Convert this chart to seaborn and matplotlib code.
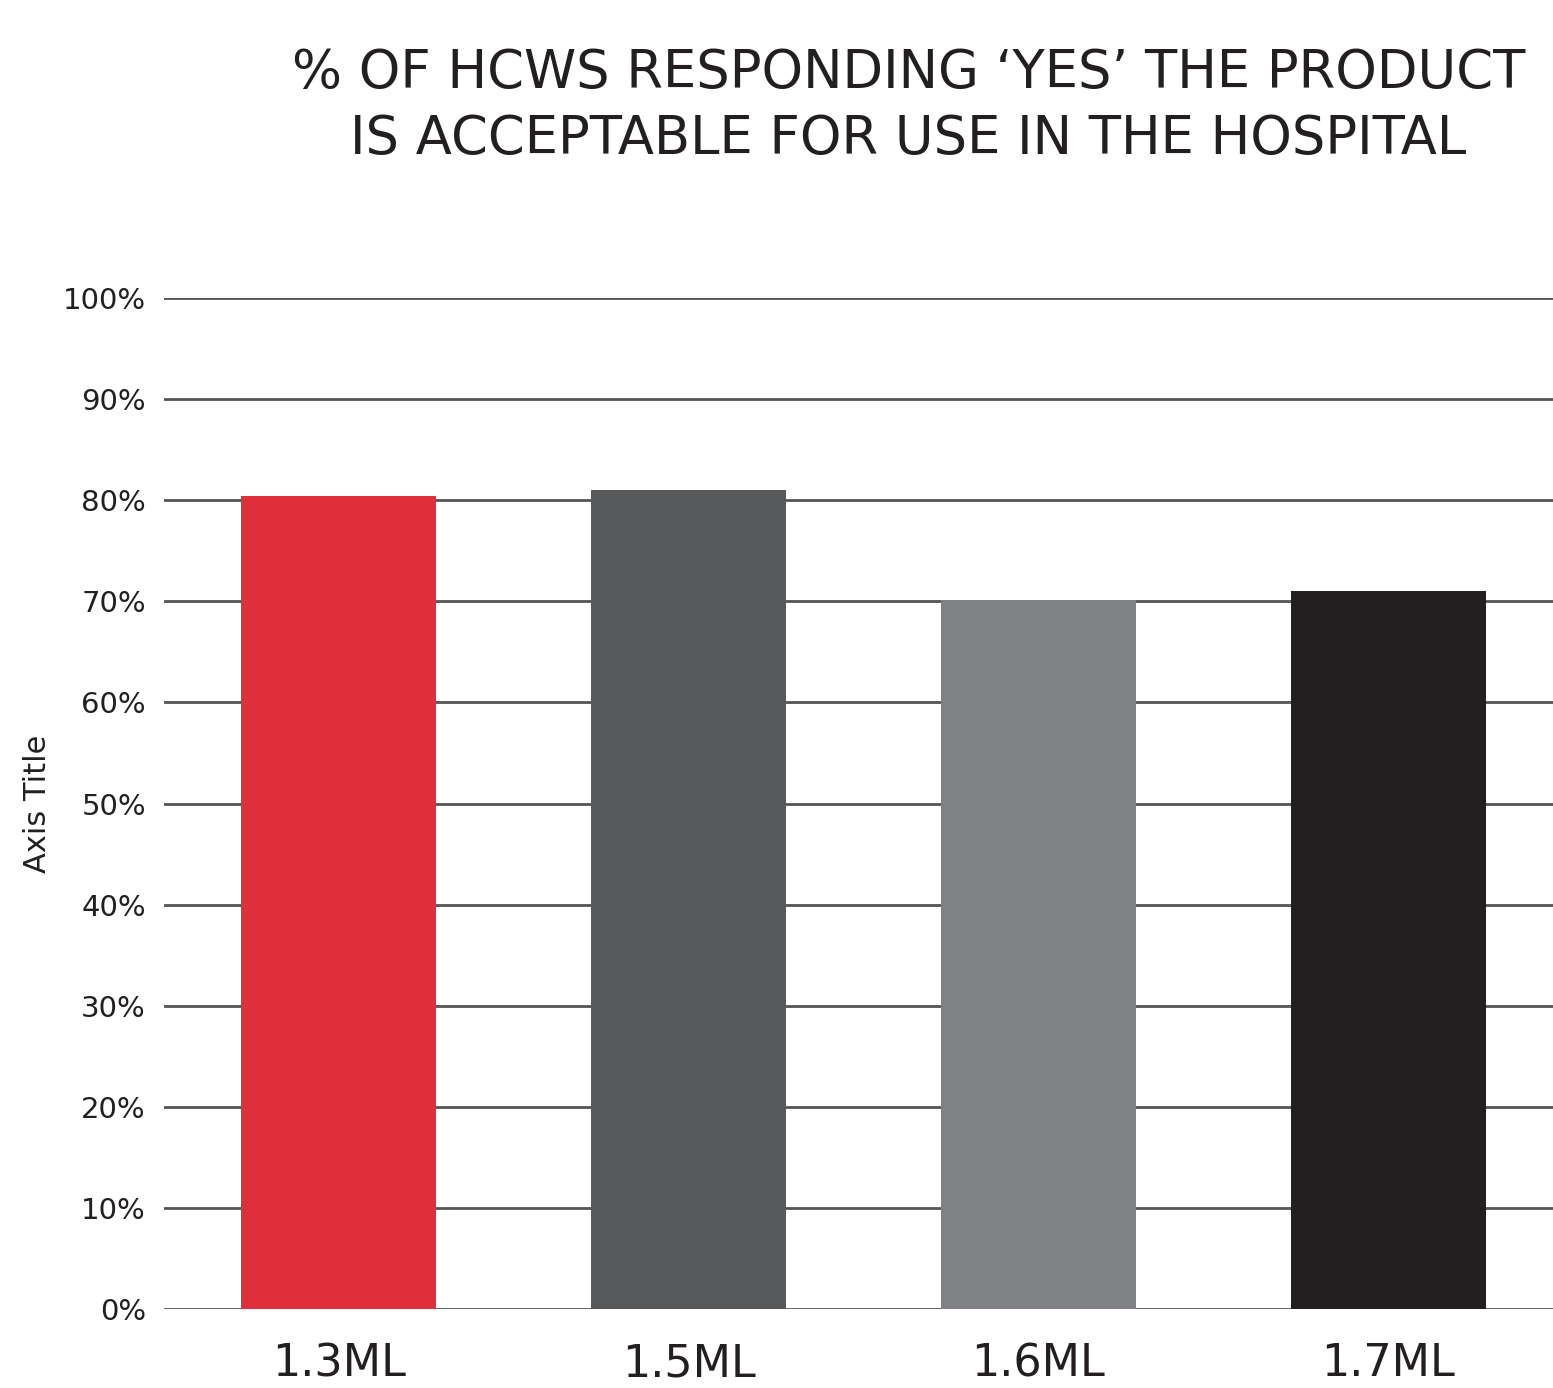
import matplotlib
matplotlib.use("Agg")
import matplotlib.pyplot as plt
import seaborn as sns
import pandas as pd
from matplotlib.ticker import FuncFormatter

categories = ["1.3ML", "1.5ML", "1.6ML", "1.7ML"]
values = [80.4, 81.0, 70.1, 71.0]
colors = ["#E02F3A", "#58595B", "#808184", "#231F20"]
yticks = [0, 10, 20, 30, 40, 50, 60, 70, 80, 90, 100]
title = "% OF HCWS RESPONDING \u2018YES\u2019 THE PRODUCT\nIS ACCEPTABLE FOR USE IN THE HOSPITAL"

sns.set_theme(style="white")
plt.rcParams['font.family'] = ['DejaVu Sans']

df = pd.DataFrame({"cat": categories, "val": values})

fig = plt.figure(figsize=(15.53, 13.88), dpi=100)
ax = fig.add_axes([0.1056, 0.0569, 0.9009, 0.7284])

ax.set_axisbelow(True)
for t in yticks:
    ax.axhline(t, color="#555555", lw=2.0, zorder=0)

sns.barplot(data=df, x="cat", y="val", hue="cat", palette=colors,
            width=0.557, legend=False, ax=ax, saturation=1, zorder=2,
            linewidth=0, edgecolor="none")

ax.set_xlim(-0.5, 3.5)
ax.set_ylim(0, 100)
ax.set_yticks(yticks)
ax.yaxis.set_major_formatter(FuncFormatter(lambda v, p: f"{int(v)}%"))
for s in ax.spines.values():
    s.set_visible(False)
ax.tick_params(axis="y", length=0, pad=13, labelsize=21, labelcolor="#231F20")
ax.tick_params(axis="x", length=0, pad=24, labelsize=32, labelcolor="#231F20")
ax.set_xlabel("")
ax.set_ylabel("Axis Title", fontsize=22, color="#231F20", labelpad=8)

fig.text(0.585, 0.9236, title, ha="center", va="center", fontsize=38,
         color="#231F20", linespacing=1.36)

fig.savefig("out.png", dpi=100)
